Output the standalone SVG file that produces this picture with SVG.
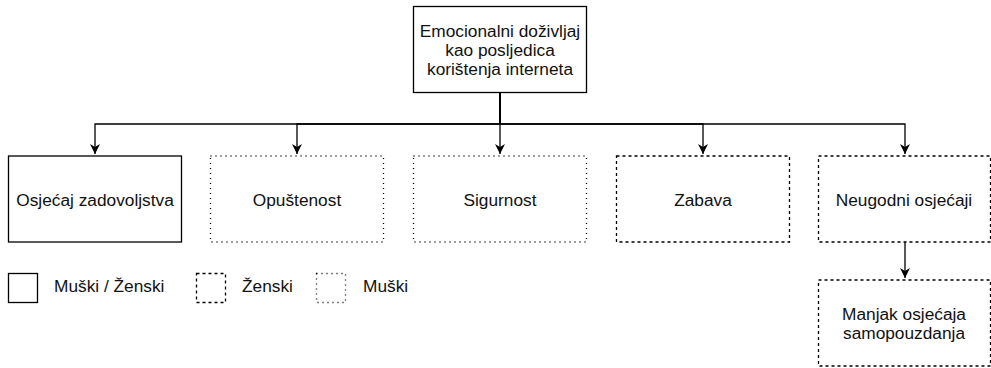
<svg xmlns="http://www.w3.org/2000/svg" width="991" height="368" viewBox="0 0 991 368">
<style>
.box{fill:#fff;stroke:#000;stroke-width:1.3}
.dash{stroke-dasharray:3 3}
.dot{stroke-dasharray:1 4}
.t{font-family:"Liberation Sans",Arial,Helvetica,sans-serif;font-size:17.3px;fill:#111;text-anchor:middle}
.tl{font-family:"Liberation Sans",Arial,Helvetica,sans-serif;font-size:17.3px;fill:#111;text-anchor:start}
.edge{fill:none;stroke:#000;stroke-width:1.3}
</style>
<defs>
<marker id="arr" markerWidth="12" markerHeight="12" viewBox="0 0 12 12" refX="10" refY="6" orient="auto" markerUnits="userSpaceOnUse">
<path d="M0,1 L10,6 L0,11 L3,6 Z" fill="#000"/>
</marker>
</defs>
<g id="connectors">
<path class="edge" d="M500,92 V124 H95 V154" marker-end="url(#arr)"/>
<path class="edge" d="M500,92 V124 H297 V154" marker-end="url(#arr)"/>
<path class="edge" d="M500,92 V154" marker-end="url(#arr)"/>
<path class="edge" d="M500,92 V124 H703 V154" marker-end="url(#arr)"/>
<path class="edge" d="M500,92 V124 H905 V154" marker-end="url(#arr)"/>
<path class="edge" d="M905,242 V278" marker-end="url(#arr)"/>
</g>
<g id="root">
<rect class="box" x="413.5" y="6.5" width="173" height="86"/>
<text class="t" x="500" y="36.5">Emocionalni doživljaj</text>
<text class="t" x="500" y="55.8">kao posljedica</text>
<text class="t" x="500" y="75">korištenja interneta</text>
</g>
<g id="n1">
<rect class="box" x="8.5" y="156" width="173" height="86"/>
<text class="t" x="95" y="205.5">Osjećaj zadovoljstva</text>
</g>
<g id="n2">
<rect class="box dot" x="210.5" y="156" width="173" height="86"/>
<text class="t" x="297" y="205.5">Opuštenost</text>
</g>
<g id="n3">
<rect class="box dot" x="413.5" y="156" width="173" height="86"/>
<text class="t" x="500" y="205.5">Sigurnost</text>
</g>
<g id="n4">
<rect class="box dash" x="616.5" y="156" width="173" height="86"/>
<text class="t" x="703" y="205.5">Zabava</text>
</g>
<g id="n5">
<rect class="box dash" x="818.5" y="156" width="172" height="86"/>
<text class="t" x="904" y="205.5">Neugodni osjećaji</text>
</g>
<g id="n6">
<rect class="box dash" x="818.5" y="280" width="172" height="86"/>
<text class="t" x="904" y="320">Manjak osjećaja</text>
<text class="t" x="904" y="339">samopouzdanja</text>
</g>
<g id="legend">
<rect class="box" x="8.5" y="273.5" width="29" height="29"/>
<text class="tl" x="54" y="292">Muški / Ženski</text>
<rect class="box dash" x="196.5" y="273.5" width="29" height="29"/>
<text class="tl" x="242" y="292">Ženski</text>
<rect class="box dot" x="316.5" y="273.5" width="29" height="29"/>
<text class="tl" x="363" y="292">Muški</text>
</g>
</svg>
